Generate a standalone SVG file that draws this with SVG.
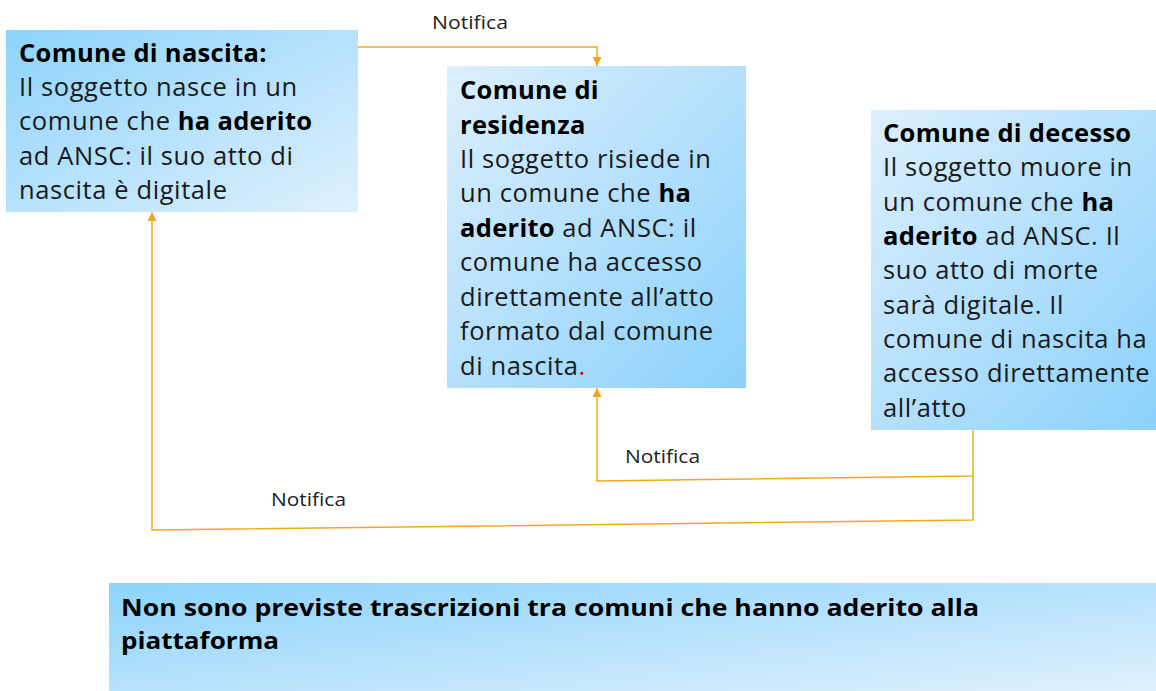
<svg xmlns="http://www.w3.org/2000/svg" width="1156" height="691" viewBox="0 0 1156 691">
<style>
.t{font-family:"Open Sans","Noto Sans","DejaVu Sans",sans-serif;font-size:25.5px;letter-spacing:0.6px;fill:#1a1a1a}
.b{font-weight:bold;fill:#000;letter-spacing:0.3px}
.lbl{font-family:"Open Sans","Noto Sans","DejaVu Sans",sans-serif;font-size:18.5px;fill:#222}
.bot{font-family:"Open Sans","Noto Sans","DejaVu Sans",sans-serif;font-size:23px;font-weight:bold;fill:#000}
.c{fill:none;stroke:#f2a81e;stroke-width:1.5}
</style>
<defs>
<linearGradient id="gDark" x1="0" y1="0" x2="1" y2="1">
<stop offset="0" stop-color="#8dd3fb"/><stop offset="1" stop-color="#dff0fd"/>
</linearGradient>
<linearGradient id="gLight" x1="0" y1="0" x2="1" y2="1">
<stop offset="0" stop-color="#ddeffd"/><stop offset="1" stop-color="#8bd1fb"/>
</linearGradient>
<marker id="arr" viewBox="0 0 10 10" refX="10" refY="5" markerWidth="9" markerHeight="9" markerUnits="userSpaceOnUse" orient="auto">
<path d="M0,0 L10,5 L0,10 z" fill="#f2a81e"/>
</marker>
</defs>
<g id="connectors">
<path class="c" d="M358,47 L597,47 L597,66" marker-end="url(#arr)"/>
<path class="c" d="M973,430 L973,476 L597,481 L597,388" marker-end="url(#arr)"/>
<path class="c" d="M973,476 L973,520 L152,530 L152,212" marker-end="url(#arr)"/>
<text class="lbl" x="432" y="29" textLength="76" lengthAdjust="spacingAndGlyphs">Notifica</text>
<text class="lbl" x="625" y="463" textLength="75" lengthAdjust="spacingAndGlyphs">Notifica</text>
<text class="lbl" x="271" y="506" textLength="75" lengthAdjust="spacingAndGlyphs">Notifica</text>
</g>
<g id="nascita">
<rect x="6" y="30" width="352" height="182" fill="url(#gDark)"/>
<text class="t" x="19" y="62"><tspan class="b">Comune di nascita:</tspan></text>
<text class="t" x="19" y="96">Il soggetto nasce in un</text>
<text class="t" x="19" y="130">comune che <tspan class="b">ha aderito</tspan></text>
<text class="t" x="19" y="165">ad ANSC: il suo atto di</text>
<text class="t" x="19" y="199">nascita è digitale</text>
</g>
<g id="residenza">
<rect x="447" y="66" width="299" height="322" fill="url(#gLight)"/>
<text class="t" x="460" y="99"><tspan class="b">Comune di</tspan></text>
<text class="t" x="460" y="134"><tspan class="b">residenza</tspan></text>
<text class="t" x="460" y="168">Il soggetto risiede in</text>
<text class="t" x="460" y="202">un comune che <tspan class="b">ha</tspan></text>
<text class="t" x="460" y="237"><tspan class="b">aderito</tspan> ad ANSC: il</text>
<text class="t" x="460" y="271">comune ha accesso</text>
<text class="t" x="460" y="306">direttamente all’atto</text>
<text class="t" x="460" y="340">formato dal comune</text>
<text class="t" x="460" y="375">di nascita<tspan fill="#e00000">.</tspan></text>
</g>
<g id="decesso">
<rect x="871" y="110" width="285" height="320" fill="url(#gLight)"/>
<text class="t" x="883" y="142"><tspan class="b">Comune di decesso</tspan></text>
<text class="t" x="883" y="176">Il soggetto muore in</text>
<text class="t" x="883" y="211">un comune che <tspan class="b">ha</tspan></text>
<text class="t" x="883" y="245"><tspan class="b">aderito</tspan> ad ANSC. Il</text>
<text class="t" x="883" y="279">suo atto di morte</text>
<text class="t" x="883" y="314">sarà digitale. Il</text>
<text class="t" x="883" y="348">comune di nascita ha</text>
<text class="t" x="883" y="382">accesso direttamente</text>
<text class="t" x="883" y="417">all’atto</text>
</g>
<g id="nota">
<rect x="109" y="583" width="1047" height="108" fill="url(#gDark)"/>
<text class="bot" x="121" y="616" textLength="858" lengthAdjust="spacingAndGlyphs">Non sono previste trascrizioni tra comuni che hanno aderito alla</text>
<text class="bot" x="121" y="649" textLength="158" lengthAdjust="spacingAndGlyphs">piattaforma</text>
</g>
</svg>
